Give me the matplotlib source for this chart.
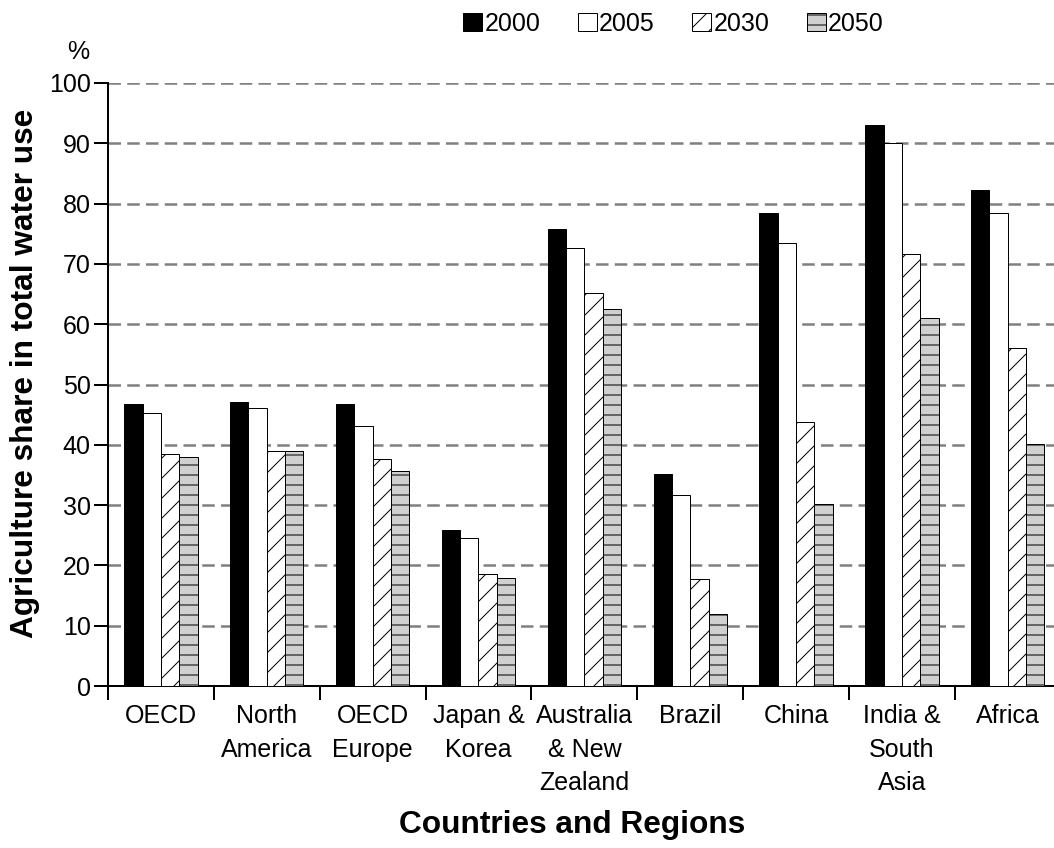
import matplotlib
matplotlib.use("Agg")
import matplotlib.pyplot as plt
import numpy as np

plt.rcParams['font.family'] = ['Liberation Sans', 'DejaVu Sans']
plt.rcParams['hatch.linewidth'] = 0.6

categories = ["OECD", "North\nAmerica", "OECD\nEurope", "Japan &\nKorea",
              "Australia\n& New\nZealand", "Brazil", "China",
              "India &\nSouth\nAsia", "Africa"]
years = ["2000", "2005", "2030", "2050"]
v2000 = [46.7, 47.1, 46.7, 25.8, 75.8, 35.1, 78.5, 93.0, 82.2]
v2005 = [45.2, 46.1, 43.1, 24.5, 72.6, 31.6, 73.5, 90.1, 78.4]
v2030 = [38.4, 39.0, 37.6, 18.6, 65.1, 17.7, 43.7, 71.7, 56.1]
v2050 = [38.0, 39.0, 35.6, 17.9, 62.5, 11.9, 30.2, 61.1, 40.1]
yticks = list(range(0, 101, 10))

series = [v2000, v2005, v2030, v2050]
faces = ["black", "white", "white", "#d0d0d0"]
hatches = [None, None, "//", "--"]

W, H, DPI = 1054, 848, 120
fig = plt.figure(figsize=(W / DPI, H / DPI), dpi=DPI)
left, right, top, bottom = 108, 1060.7, 83, 686
ax = fig.add_axes([left / W, 1 - bottom / H, (right - left) / W, (bottom - top) / H])

x = np.arange(len(categories))
bw = 0.173
handles = []
for k, (vals, fc, h) in enumerate(zip(series, faces, hatches)):
    b = ax.bar(x + (k - 1.5) * bw, vals, width=bw, color=fc, edgecolor="black",
               linewidth=0.6, hatch=h, label=years[k], zorder=3)
    handles.append(b)

ax.set_xlim(-0.5, len(categories) - 0.5)
ax.set_ylim(0, 100)
ax.set_yticks(yticks)
ax.set_yticklabels([str(t) for t in yticks], fontsize=15)
ax.set_xticks(x)
ax.set_xticklabels(categories, fontsize=15, linespacing=1.5)
ax.set_xticks(np.arange(len(categories) + 1) - 0.5, minor=True)
ax.tick_params(axis='x', which='major', length=0, pad=11)
ax.tick_params(axis='x', which='minor', length=8.4, width=1.2, direction='out')
ax.tick_params(axis='y', which='major', length=8.4, width=1.2, direction='out', pad=2)

ax.set_axisbelow(True)
ax.yaxis.grid(True, color="#808080", linewidth=1.5, linestyle=(0, (5, 2.5)))
for s in ["top", "right"]:
    ax.spines[s].set_visible(False)
for s in ["left", "bottom"]:
    ax.spines[s].set_linewidth(1.2)

fig.text(78 / W, 1 - 52 / H, "%", ha="center", va="center", fontsize=15)
fig.text(25 / W, 1 - 109 / H, "Agriculture share in total water use", rotation=90,
         ha="center", va="top", fontsize=19, fontweight="bold")
fig.text(572 / W, 1 - 833 / H, "Countries and Regions", ha="center", va="baseline",
         fontsize=19, fontweight="bold")

leg = fig.legend(handles=handles, labels=years, loc="center",
                 bbox_to_anchor=(((462 + 885) / 2) / W, 1 - 24 / H), ncol=4,
                 frameon=False, fontsize=15, handlelength=0.75, handleheight=0.75,
                 handletextpad=0.1, columnspacing=1.5, borderpad=0, borderaxespad=0)

fig.savefig("out.png", dpi=DPI)
